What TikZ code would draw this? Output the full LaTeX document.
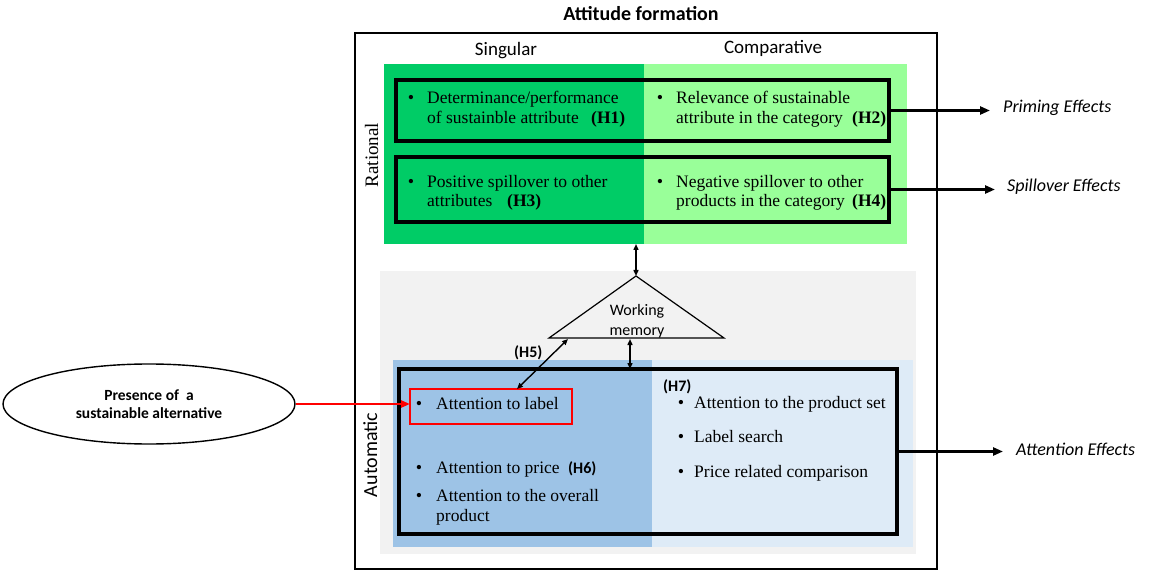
\documentclass[tikz,border=0pt]{standalone}
\usepackage{fontspec}
\setmainfont{Liberation Serif}
\newfontfamily\calfont{Carlito}
\usetikzlibrary{arrows.meta,shapes.geometric}
\definecolor{dgreen}{HTML}{00CC66}
\definecolor{lgreen}{HTML}{99FF99}
\definecolor{grayreg}{HTML}{F2F2F2}
\definecolor{dblue}{HTML}{9DC3E6}
\definecolor{lblue}{HTML}{DEEBF7}
\tikzset{
  region/.style={anchor=north west, inner sep=0pt, outer sep=0pt},
  hbox/.style={region, draw=black, line width=3.2pt},
  txt/.style={anchor=base west, inner sep=0pt, font=\fontsize{17.5}{20}\selectfont},
  bul/.style={anchor=base, inner sep=0pt, font=\fontsize{18}{20}\selectfont},
  hser/.style={anchor=base west, inner sep=0pt, font=\fontsize{17.5}{20}\selectfont\bfseries},
  hsans/.style={anchor=base west, inner sep=0pt, font=\calfont\fontsize{16}{19}\selectfont\bfseries},
  head/.style={anchor=base, inner sep=0pt, font=\calfont\fontsize{19}{22}\selectfont},
  eff/.style={anchor=base west, inner sep=0pt, font=\calfont\fontsize{18}{21}\selectfont\itshape},
  effarrow/.style={line width=2.4pt, -{Triangle[length=10pt,width=8pt]}},
  dbl/.style={line width=1.4pt, {Triangle[length=6pt,width=5pt]}-{Triangle[length=6pt,width=5pt]}}
}
\begin{document}
\begin{tikzpicture}[x=1pt,y=-1pt]
\useasboundingbox (0,0) rectangle (1149,572);
% background regions
\node[region, fill=dgreen, minimum width=260pt, minimum height=180pt] (gl) at (384,64) {};
\node[region, fill=lgreen, minimum width=263pt, minimum height=180pt] (gr) at (644,64) {};
\node[region, fill=grayreg, minimum width=536pt, minimum height=283pt] (gy) at (380,271) {};
\node[region, fill=dblue, minimum width=259pt, minimum height=187pt] (bl) at (393,360) {};
\node[region, fill=lblue, minimum width=261pt, minimum height=187pt] (br) at (652,360) {};
% outer frame
\node[region, draw=black, line width=1.8pt, minimum width=582pt, minimum height=536pt] (outer) at (355,33) {};
\node[anchor=base, inner sep=0pt, font=\calfont\fontsize{20}{22}\selectfont\bfseries] (title) at (641,21) {Attitude formation};
\node[head] (sing) at (506,56) {Singular};
\node[head] (comp) at (773,54) {Comparative};
\node[anchor=base, inner sep=0pt, rotate=90, font=\fontsize{19}{22}\selectfont] (rat) at (378,155) {Rational};
\node[anchor=base, inner sep=0pt, rotate=90, font=\calfont\fontsize{20}{22}\selectfont] (aut) at (377,455) {Automatic};
% rational boxes
\node[hbox, minimum width=493pt, minimum height=61pt] (b1) at (396,80) {};
\node[hbox, minimum width=493pt, minimum height=65pt] (b2) at (396,157) {};
\node[bul] (u1) at (411,104) {\textbullet};
\node[txt] (t1a) at (427,104) {Determinance/performance};
\node[txt] (t1b) at (427,124) {of sustainble attribute};
\node[hser] (h1) at (591,124) {(H1)};
\node[bul] (u2) at (660,104) {\textbullet};
\node[txt] (t2a) at (676,104) {Relevance of sustainable};
\node[txt] (t2b) at (676,124) {attribute in the category};
\node[hser] (h2) at (852,124) {(H2)};
\node[bul] (u3) at (411,188) {\textbullet};
\node[txt] (t3a) at (427,188) {Positive spillover to other};
\node[txt] (t3b) at (427,207) {attributes};
\node[hser] (h3) at (507,207) {(H3)};
\node[bul] (u4) at (660,188) {\textbullet};
\node[txt] (t4a) at (676,188) {Negative spillover to other};
\node[txt] (t4b) at (676,207) {products in the category};
\node[hser] (h4) at (852,207) {(H4)};
% working memory
\coordinate (apex) at (636,276);
\coordinate (wl) at (549,338);
\coordinate (wr) at (724,338);
\draw[line width=1.2pt, line join=miter] (apex) -- (wr) -- (wl) -- cycle;
\node[anchor=base, inner sep=0pt, font=\calfont\fontsize{16}{19}\selectfont] (wm1) at (637,315) {Working};
\node[anchor=base, inner sep=0pt, font=\calfont\fontsize{16}{19}\selectfont] (wm2) at (637,335) {memory};
% automatic box
\node[hbox, minimum width=498pt, minimum height=165pt] (big) at (399,369) {};
\node[region, draw=red, line width=2.6pt, minimum width=162pt, minimum height=35pt] (red) at (410,389) {};
\node[bul] (u5) at (419,409) {\textbullet};
\node[txt] (t5) at (436,409) {Attention to label};
\node[bul] (u6) at (419,473) {\textbullet};
\node[txt] (t6) at (436,473) {Attention to price};
\node[hsans] (h6) at (568,473) {(H6)};
\node[bul] (u7) at (419,501) {\textbullet};
\node[txt] (t7a) at (436,501) {Attention to the overall};
\node[txt] (t7b) at (436,521) {product};
\node[hsans] (h7) at (663,391) {(H7)};
\node[bul] (u8) at (681,408) {\textbullet};
\node[txt] (t8) at (694,408) {Attention to the product set};
\node[bul] (u9) at (681,442) {\textbullet};
\node[txt] (t9) at (694,442) {Label search};
\node[bul] (u10) at (681,477) {\textbullet};
\node[txt] (t10) at (694,477) {Price related comparison};
\node[hsans] (h5) at (514,357) {(H5)};
% ellipse
\node[ellipse, draw=black, line width=1.4pt, minimum width=292pt, minimum height=80pt, align=center,
      font=\calfont\fontsize{15.5}{18}\selectfont\bfseries] (pres) at (149,404) {Presence of \ a\\sustainable alternative};
% effects labels
\node[eff] (prim) at (1003,113) {Priming Effects};
\node[eff] (spill) at (1007,192) {Spillover Effects};
\node[eff] (att) at (1016,455) {Attention Effects};
% connectors
\draw[effarrow, shorten >=13pt] (b1.east) -- (b1.east -| prim.west);
\draw[effarrow, shorten >=12pt] (b2.east) -- (b2.east -| spill.west);
\draw[effarrow, shorten >=13pt] (big.east) -- (big.east -| att.west);
\draw[line width=2.2pt, red, -{Triangle[length=9pt,width=7pt]}] (pres.east) -- (pres.east -| red.west);
\draw[dbl] (apex |- gl.south) -- (apex);
\coordinate (m2) at (630,339);
\draw[dbl] (m2) -- (m2 |- big.north);
\coordinate (h5top) at (568,339);
\coordinate (h5bot) at ([xshift=26pt]red.north);
\draw[dbl] (h5top) -- (h5bot);
\end{tikzpicture}
\end{document}
